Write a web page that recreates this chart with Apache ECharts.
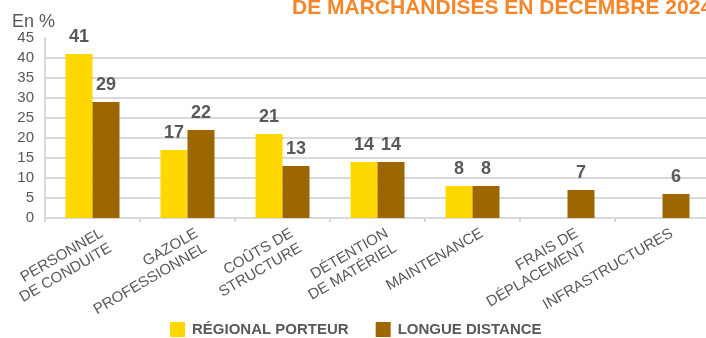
<!DOCTYPE html>
<html>
<head>
<meta charset="utf-8">
<script src="https://cdn.jsdelivr.net/npm/echarts@6/dist/echarts.min.js"></script>
<style>
  html, body { margin: 0; padding: 0; background: #ffffff; }
  #chart { width: 706px; height: 338px; }
</style>
</head>
<body>
<div id="chart"></div>
<script>
// Cost categories (two-line labels where the wording wraps)
const categories = [
  'PERSONNEL\nDE CONDUITE',
  'GAZOLE\nPROFESSIONNEL',
  'COÛTS DE\nSTRUCTURE',
  'DÉTENTION\nDE MATÉRIEL',
  'MAINTENANCE',
  'FRAIS DE\nDÉPLACEMENT',
  'INFRASTRUCTURES'
];

// Share of each cost item, in %
const regionalPorteur = [41, 17, 21, 14, 8, null, null];
const longueDistance  = [29, 22, 13, 14, 8, 7, 6];

const seriesNames = ['RÉGIONAL PORTEUR', 'LONGUE DISTANCE'];

// Value axis scale
const yMin = 0;
const yMax = 45;
const yStep = 5;

const FONT = '"Liberation Sans", Arial, sans-serif';
const GREY_TEXT = '#595959';
const GRID_GREY = '#D9D9D9';

const chart = echarts.init(document.getElementById('chart'), null, { renderer: 'canvas' });

const barLabel = {
  show: true,
  position: 'top',
  distance: 8,
  color: GREY_TEXT,
  fontFamily: FONT,
  fontWeight: 'bold',
  fontSize: 18
};

chart.setOption({
  animation: false,
  backgroundColor: '#ffffff',
  title: {
    text: 'DE MARCHANDISES EN DECEMBRE 2024',
    left: 292,
    top: -2,
    padding: 0,
    textStyle: {
      color: '#F5862A',
      fontFamily: FONT,
      fontWeight: 'bold',
      fontSize: 21
    }
  },
  legend: {
    data: seriesNames,
    left: 170,
    top: 322,
    padding: 0,
    icon: 'rect',
    itemWidth: 15,
    itemHeight: 15,
    itemGap: 27,
    textStyle: {
      color: GREY_TEXT,
      fontFamily: FONT,
      fontWeight: 'bold',
      fontSize: 15,
      padding: [0, 0, 0, 2]
    }
  },
  grid: {
    left: 45,
    top: 38,
    right: -4,
    bottom: 120,
    outerBoundsMode: 'none'
  },
  xAxis: {
    type: 'category',
    data: categories,
    axisLine: { show: true, lineStyle: { color: GRID_GREY, width: 2 } },
    axisTick: { show: true, alignWithLabel: false, length: 4, lineStyle: { color: GRID_GREY, width: 2 } },
    axisLabel: {
      interval: 0,
      rotate: 30,
      margin: 10,
      verticalAlign: 'top',
      padding: [0, -6, 0, 0],
      color: GREY_TEXT,
      fontFamily: FONT,
      fontSize: 15,
      lineHeight: 17
    }
  },
  yAxis: {
    type: 'value',
    min: yMin,
    max: yMax,
    interval: yStep,
    name: 'En %',
    nameLocation: 'end',
    nameGap: 6,
    nameTextStyle: {
      color: GREY_TEXT,
      fontFamily: FONT,
      fontSize: 18,
      align: 'left',
      padding: [0, 0, 0, -33]
    },
    axisLine: { show: true, lineStyle: { color: GRID_GREY, width: 2 } },
    axisTick: { show: false },
    axisLabel: {
      color: GREY_TEXT,
      fontFamily: FONT,
      fontSize: 15,
      margin: 11
    },
    splitLine: {
      show: true,
      showMaxLine: false,
      lineStyle: { color: GRID_GREY, width: 2 }
    }
  },
  series: [
    {
      name: seriesNames[0],
      type: 'bar',
      data: regionalPorteur,
      barWidth: 27,
      barGap: '0%',
      itemStyle: { color: '#FFD800' },
      label: barLabel
    },
    {
      name: seriesNames[1],
      type: 'bar',
      data: longueDistance,
      barWidth: 27,
      barGap: '0%',
      itemStyle: { color: '#9C6600' },
      label: barLabel
    }
  ]
});
</script>
</body>
</html>
